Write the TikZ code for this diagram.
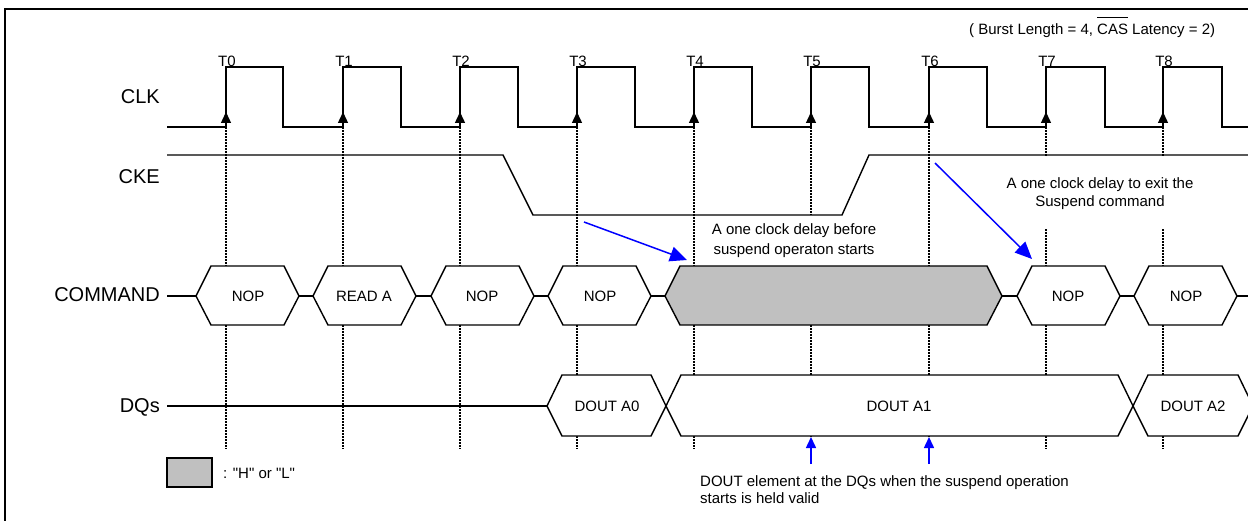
\documentclass[tikz,border=0pt]{standalone}
\usepackage{fontspec}
\setmainfont{Liberation Sans}
\newfontfamily\recta{Liberation Sans}[Ligatures=TeXOff]
\usetikzlibrary{arrows.meta}
\definecolor{hlgray}{RGB}{192,192,192}
\newcommand{\barra}[1]{\leavevmode\vbox{\hrule height 0.9pt\kern 6.5pt\hbox{#1}}}
\begin{document}
\begin{tikzpicture}[x=1pt, y=-1pt,
    senal/.style={line width=1.4pt},
    guia/.style={dash pattern=on 2pt off 1pt, line width=1.5pt},
    caja/.style={draw, fill=white, line width=1.4pt},
    nombre/.style={font=\fontsize{20}{24}\selectfont, anchor=base east, inner sep=0pt},
    texto/.style={font=\fontsize{15}{18}\selectfont, inner sep=0pt},
    flanco/.style={-{Triangle[length=11pt,width=10pt]}, line width=1.4pt},
    nota/.style={blue, line width=1.5pt, -{Triangle[length=17pt,width=15pt]}},
    notav/.style={blue, line width=1.5pt, -{Triangle[length=11pt,width=10pt]}}]
    \clip (0,0) rectangle (1248,521);
    % Marco
    \draw[line width=1.6pt] (5,9) rectangle (1300,560);

    % Guias de los flancos
    \draw[guia] (226,127) -- (226,449);
    \draw[guia] (343,127) -- (343,449);
    \draw[guia] (460,127) -- (460,449);
    \draw[guia] (577,127) -- (577,449);
    \draw[guia] (694,127) -- (694,449);
    \draw[guia] (811,127) -- (811,437);
    \draw[guia] (929,127) -- (929,437);
    \draw[guia] (1046,127) -- (1046,449);
    \draw[guia] (1163,127) -- (1163,449);

    % Notas
    \node[texto, align=center, fill=white, minimum height=52pt, inner xsep=2pt,
        font=\fontsize{15}{20}\selectfont] (nota1) at (794,241) {A one clock delay before\\suspend operaton starts};
    \node[texto, align=center, fill=white, minimum height=72pt, inner xsep=2pt,
        font=\fontsize{15}{18.7}\selectfont] (nota2) at (1100,193.5) {A one clock delay to exit the\\Suspend command};
    \node[texto, align=left, anchor=north west, font=\fontsize{15}{17.3}\selectfont] (nota3) at (700,475)
        {DOUT element at the DQs when the suspend operation\\starts is held valid};

    % CLK
    \draw[senal] (167,127) -- (226,127) -- (226,67) -- (283,67) -- (283,127)
        -- (343,127) -- (343,67) -- (401,67) -- (401,127)
        -- (460,127) -- (460,67) -- (518,67) -- (518,127)
        -- (577,127) -- (577,67) -- (635,67) -- (635,127)
        -- (694,127) -- (694,67) -- (752,67) -- (752,127)
        -- (811,127) -- (811,67) -- (869,67) -- (869,127)
        -- (929,127) -- (929,67) -- (987,67) -- (987,127)
        -- (1046,127) -- (1046,67) -- (1105,67) -- (1105,127)
        -- (1163,127) -- (1163,67) -- (1222,67) -- (1222,127) -- (1260,127);
    \draw[flanco] (226,127) -- (226,112);
    \draw[flanco] (343,127) -- (343,112);
    \draw[flanco] (460,127) -- (460,112);
    \draw[flanco] (577,127) -- (577,112);
    \draw[flanco] (694,127) -- (694,112);
    \draw[flanco] (811,127) -- (811,112);
    \draw[flanco] (929,127) -- (929,112);
    \draw[flanco] (1046,127) -- (1046,112);
    \draw[flanco] (1163,127) -- (1163,112);

    % CKE
    \draw[senal] (167,155) -- (503,155) -- (533,215) -- (842,215) -- (869,155) -- (1260,155);

    % COMMAND
    \draw[senal] (167,296) -- (1260,296);
    \draw[caja] (196,296) -- (211,266) -- (284,266) -- (299,296) -- (284,325) -- (211,325) -- cycle;
    \draw[caja] (313,296) -- (328,266) -- (401,266) -- (416,296) -- (401,325) -- (328,325) -- cycle;
    \draw[caja] (431,296) -- (446,266) -- (519,266) -- (534,296) -- (519,325) -- (446,325) -- cycle;
    \draw[caja] (548,296) -- (563,266) -- (636,266) -- (651,296) -- (636,325) -- (563,325) -- cycle;
    \draw[caja, fill=hlgray] (665,296) -- (680,266) -- (987,266) -- (1002,296) -- (987,325) -- (680,325) -- cycle;
    \draw[caja] (1017,296) -- (1032,266) -- (1105,266) -- (1120,296) -- (1105,325) -- (1032,325) -- cycle;
    \draw[caja] (1134,296) -- (1149,266) -- (1222,266) -- (1237,296) -- (1222,325) -- (1149,325) -- cycle;
    \node[texto] (nop0) at (248,296) {NOP};
    \node[texto] (reada) at (364,296) {READ A};
    \node[texto] (nop2) at (482,296) {NOP};
    \node[texto] (nop3) at (600,296) {NOP};
    \node[texto] (nop7) at (1068,296) {NOP};
    \node[texto] (nop8) at (1186,296) {NOP};

    % DQs
    \draw[senal] (167,406) -- (547,406);
    \draw[caja] (547,406) -- (562,375) -- (651,375) -- (666,406) -- (651,436) -- (562,436) -- cycle;
    \draw[caja] (666,406) -- (681,375) -- (1118,375) -- (1133,406) -- (1118,436) -- (681,436) -- cycle;
    \draw[caja] (1133,406) -- (1148,375) -- (1238,375) -- (1253,406) -- (1238,436) -- (1148,436) -- cycle;
    \node[texto] (a0) at (607,406) {DOUT A0};
    \node[texto] (a1) at (899,406) {DOUT A1};
    \node[texto] (a2) at (1193,406) {DOUT A2};

    % Etiquetas
    \node[nombre] (clk) at (160,104) {CLK};
    \node[nombre] (cke) at (160,184) {CKE};
    \node[nombre] (cmd) at (160,302) {COMMAND};
    \node[nombre] (dqs) at (160,412) {DQs};
    \node[texto, anchor=base] (t0) at (227,66.5) {T0};
    \node[texto, anchor=base] (t1) at (344,66.5) {T1};
    \node[texto, anchor=base] (t2) at (461,66.5) {T2};
    \node[texto, anchor=base] (t3) at (578,66.5) {T3};
    \node[texto, anchor=base] (t4) at (695,66.5) {T4};
    \node[texto, anchor=base] (t5) at (812,66.5) {T5};
    \node[texto, anchor=base] (t6) at (930,66.5) {T6};
    \node[texto, anchor=base] (t7) at (1047,66.5) {T7};
    \node[texto, anchor=base] (t8) at (1164,66.5) {T8};
    \node[texto, anchor=base west] (modo) at (969,35) {( Burst Length = 4, \barra{CAS} Latency = 2)};

    % Flechas
    \coordinate (d1a) at (584,222);
    \coordinate (d1b) at (687,260);
    \coordinate (d2a) at (935,163);
    \coordinate (d2b) at (1032,259);
    \coordinate (v1a) at (811,464);
    \coordinate (v1b) at (811,437);
    \coordinate (v2a) at (929,464);
    \coordinate (v2b) at (929,437);
    \draw[nota] (d1a) -- (d1b);
    \draw[nota] (d2a) -- (d2b);
    \draw[notav] (v1a) -- (v1b);
    \draw[notav] (v2a) -- (v2b);

    % Leyenda
    \draw[line width=1.2pt, fill=hlgray] (167,458) rectangle (212,487);
    \node[texto, anchor=base west, font=\recta\fontsize{15}{18}\selectfont] (leyenda) at (223,478) {: "H" or "L"};
\end{tikzpicture}
\end{document}
